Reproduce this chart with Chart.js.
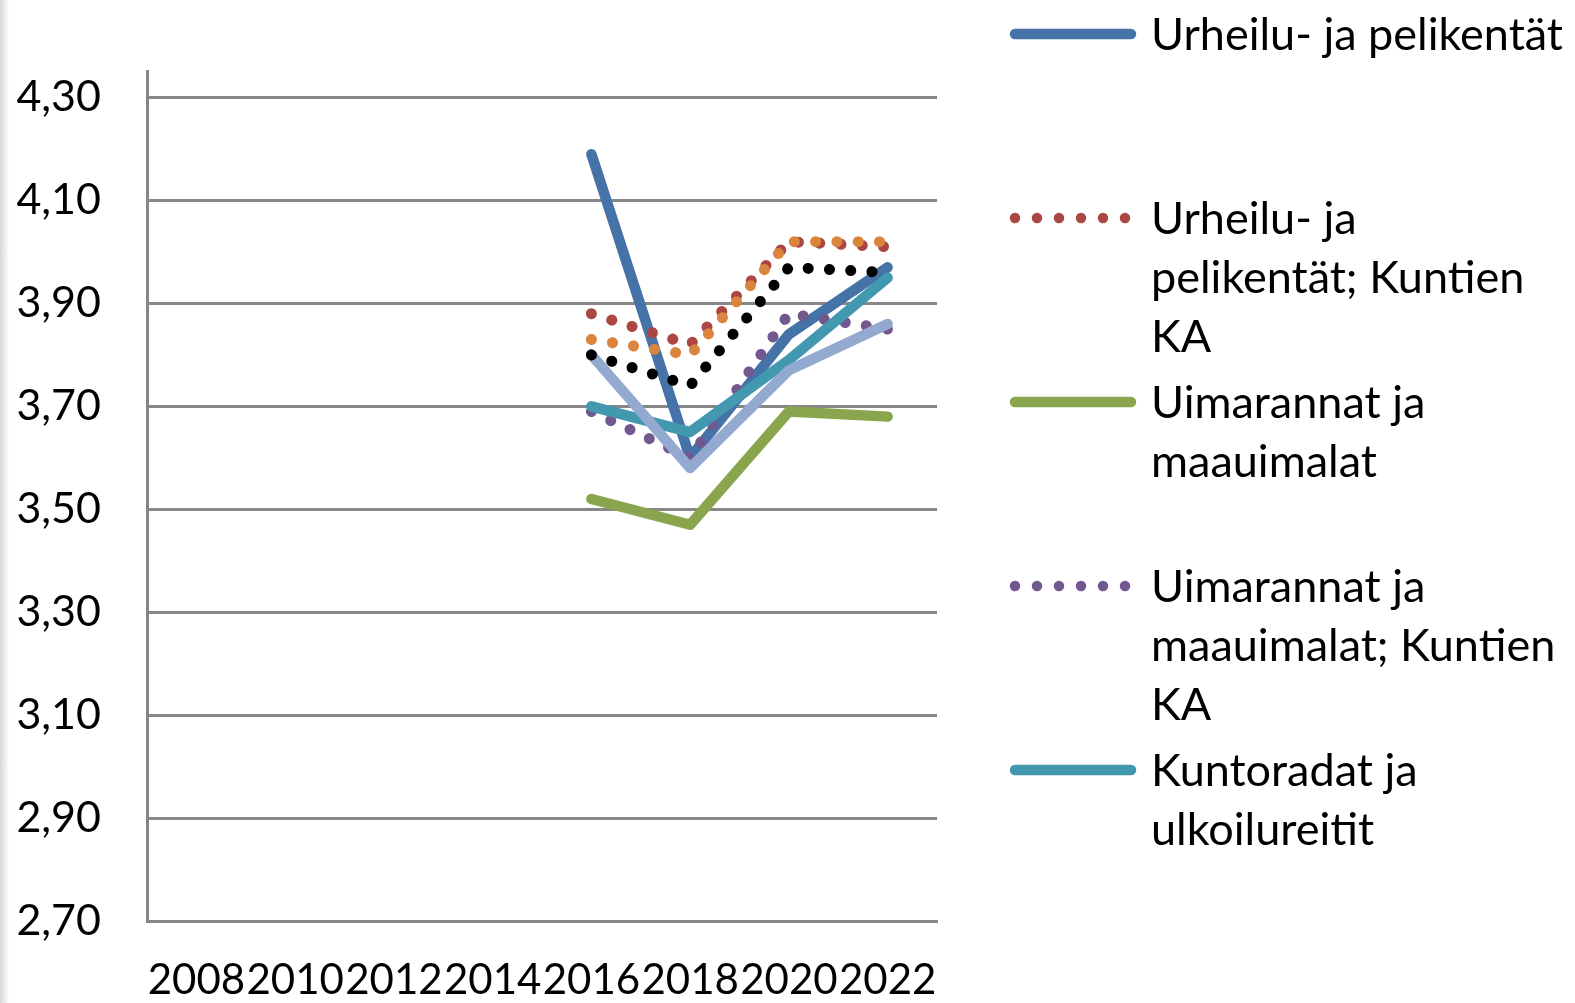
<!DOCTYPE html>
<html><head><meta charset="utf-8">
<script src="https://cdn.jsdelivr.net/npm/chart.js@4"></script>
<style>
html,body{margin:0;padding:0;background:#fff;}
#wrap{position:relative;width:1575px;height:1003px;overflow:hidden;background:#fff;}
#c{position:absolute;left:0;top:0;}
#legend{position:absolute;left:0;top:0;width:1575px;height:1003px;pointer-events:none;}
.item{position:absolute;left:1005px;width:570px;}
.sym{position:absolute;left:0;top:23px;}
.txt{position:absolute;left:146px;top:0;font-family:Lato,sans-serif;font-size:45px;line-height:59px;white-space:nowrap;color:#000;}
#shade{position:absolute;left:0;top:0;width:9px;height:1003px;background:linear-gradient(to right,#d6d6d6,#ffffff);}
</style></head>
<body>
<div id="wrap">
  <canvas id="c" width="1575" height="1003"></canvas>
  <div id="legend"></div>
  <div id="shade"></div>
</div>
<script>
const years = ['2008','2010','2012','2014','2016','2018','2020','2022'];
const yTicks = [2.7,2.9,3.1,3.3,3.5,3.7,3.9,4.1,4.3];

const urheilu       = [null,null,null,null,4.19,3.60,3.84,3.97];
const urheiluKA     = [null,null,null,null,3.88,3.82,4.02,4.01];
const uimarannat    = [null,null,null,null,3.52,3.47,3.69,3.68];
const uimarannatKA  = [null,null,null,null,3.69,3.60,3.88,3.85];
const kuntoradat    = [null,null,null,null,3.70,3.65,3.79,3.95];
const kuntoradatKA  = [null,null,null,null,3.83,3.80,4.02,4.02];
const muut          = [null,null,null,null,3.80,3.58,3.77,3.86];
const muutKA        = [null,null,null,null,3.80,3.74,3.97,3.96];

const seriesNames = [
  'Urheilu- ja pelikentät',
  'Urheilu- ja pelikentät; Kuntien KA',
  'Uimarannat ja maauimalat',
  'Uimarannat ja maauimalat; Kuntien KA',
  'Kuntoradat ja ulkoilureitit',
  'Kuntoradat ja ulkoilureitit; Kuntien KA',
  'Muut liikuntapaikat',
  'Muut liikuntapaikat; Kuntien KA'
];
const legendLines = [
  ['Urheilu- ja pelikentät'],
  ['Urheilu- ja','pelikentät; Kuntien','KA'],
  ['Uimarannat ja','maauimalat'],
  ['Uimarannat ja','maauimalat; Kuntien','KA'],
  ['Kuntoradat ja','ulkoilureitit']
];
const seriesValues = [urheilu, urheiluKA, uimarannat, uimarannatKA, kuntoradat, kuntoradatKA, muut, muutKA];
const seriesColors = ['#4572A7','#AA4643','#89A54E','#71588F','#4198AF','#DB843D','#93A9CF','#000000'];
const seriesDotted = [false,true,false,true,false,true,false,true];

function draw(){
  const datasets = seriesValues.map((vals,i)=>({
    label: seriesNames[i],
    data: vals,
    borderColor: seriesColors[i],
    backgroundColor: seriesColors[i],
    borderWidth: seriesDotted[i] ? 11 : 10.5,
    borderCapStyle: 'round',
    borderJoinStyle: 'round',
    borderDash: seriesDotted[i] ? [0.1, 21.2] : [],
    pointRadius: 0,
    pointHoverRadius: 0,
    fill: false,
    tension: 0,
    spanGaps: false,
    order: 20 - i
  }));

  new Chart(document.getElementById('c'), {
    type: 'line',
    data: { labels: years, datasets },
    options: {
      responsive: false,
      animation: false,
      events: [],
      layout: { padding: { left: 0, top: 71, right: 638, bottom: 0 } },
      plugins: { legend: { display: false }, tooltip: { enabled: false } },
      scales: {
        x: {
          type: 'category',
          offset: true,
          grid: { display: false, drawTicks: false },
          border: { display: true, color: '#878787', width: 3 },
          ticks: { autoSkip: false, maxRotation: 0, minRotation: 0, padding: 34, color: '#000',
                   font: { family: 'Lato', size: 42 } },
          afterFit(s){ s.height = 82; }
        },
        y: {
          min: 2.7, max: 4.35,
          afterBuildTicks(s){ s.ticks = yTicks.map(v=>({value:v})); },
          grid: { color: '#878787', lineWidth: 3, drawTicks: false },
          border: { display: true, color: '#878787', width: 3 },
          ticks: { padding: 46, color: '#000', font: { family: 'Lato', size: 43 },
                   callback: v => Number(v).toFixed(2).replace('.', ',') },
          afterFit(s){ s.width = 147; }
        }
      }
    }
  });

  // Legend: only the entries that fit in the reference's legend box are visible
  const leg = document.getElementById('legend');
  legendLines.forEach((lines,i)=>{
    const item = document.createElement('div');
    item.className = 'item';
    item.style.top = (33 + i*184 - 29.5) + 'px';
    const col = seriesColors[i];
    const svg = seriesDotted[i]
      ? `<svg class="sym" width="140" height="14"><line x1="10" y1="7" x2="122" y2="7" stroke="${col}" stroke-width="10.5" stroke-linecap="round" stroke-dasharray="0 22"/></svg>`
      : `<svg class="sym" width="140" height="14"><line x1="10" y1="7" x2="126" y2="7" stroke="${col}" stroke-width="10.5" stroke-linecap="round"/></svg>`;
    item.innerHTML = svg + `<div class="txt">${lines.join('<br>')}</div>`;
    leg.appendChild(item);
  });
}
if (document.fonts && document.fonts.load) {
  document.fonts.load('42px Lato').then(draw, draw);
} else { draw(); }
</script>
</body></html>
